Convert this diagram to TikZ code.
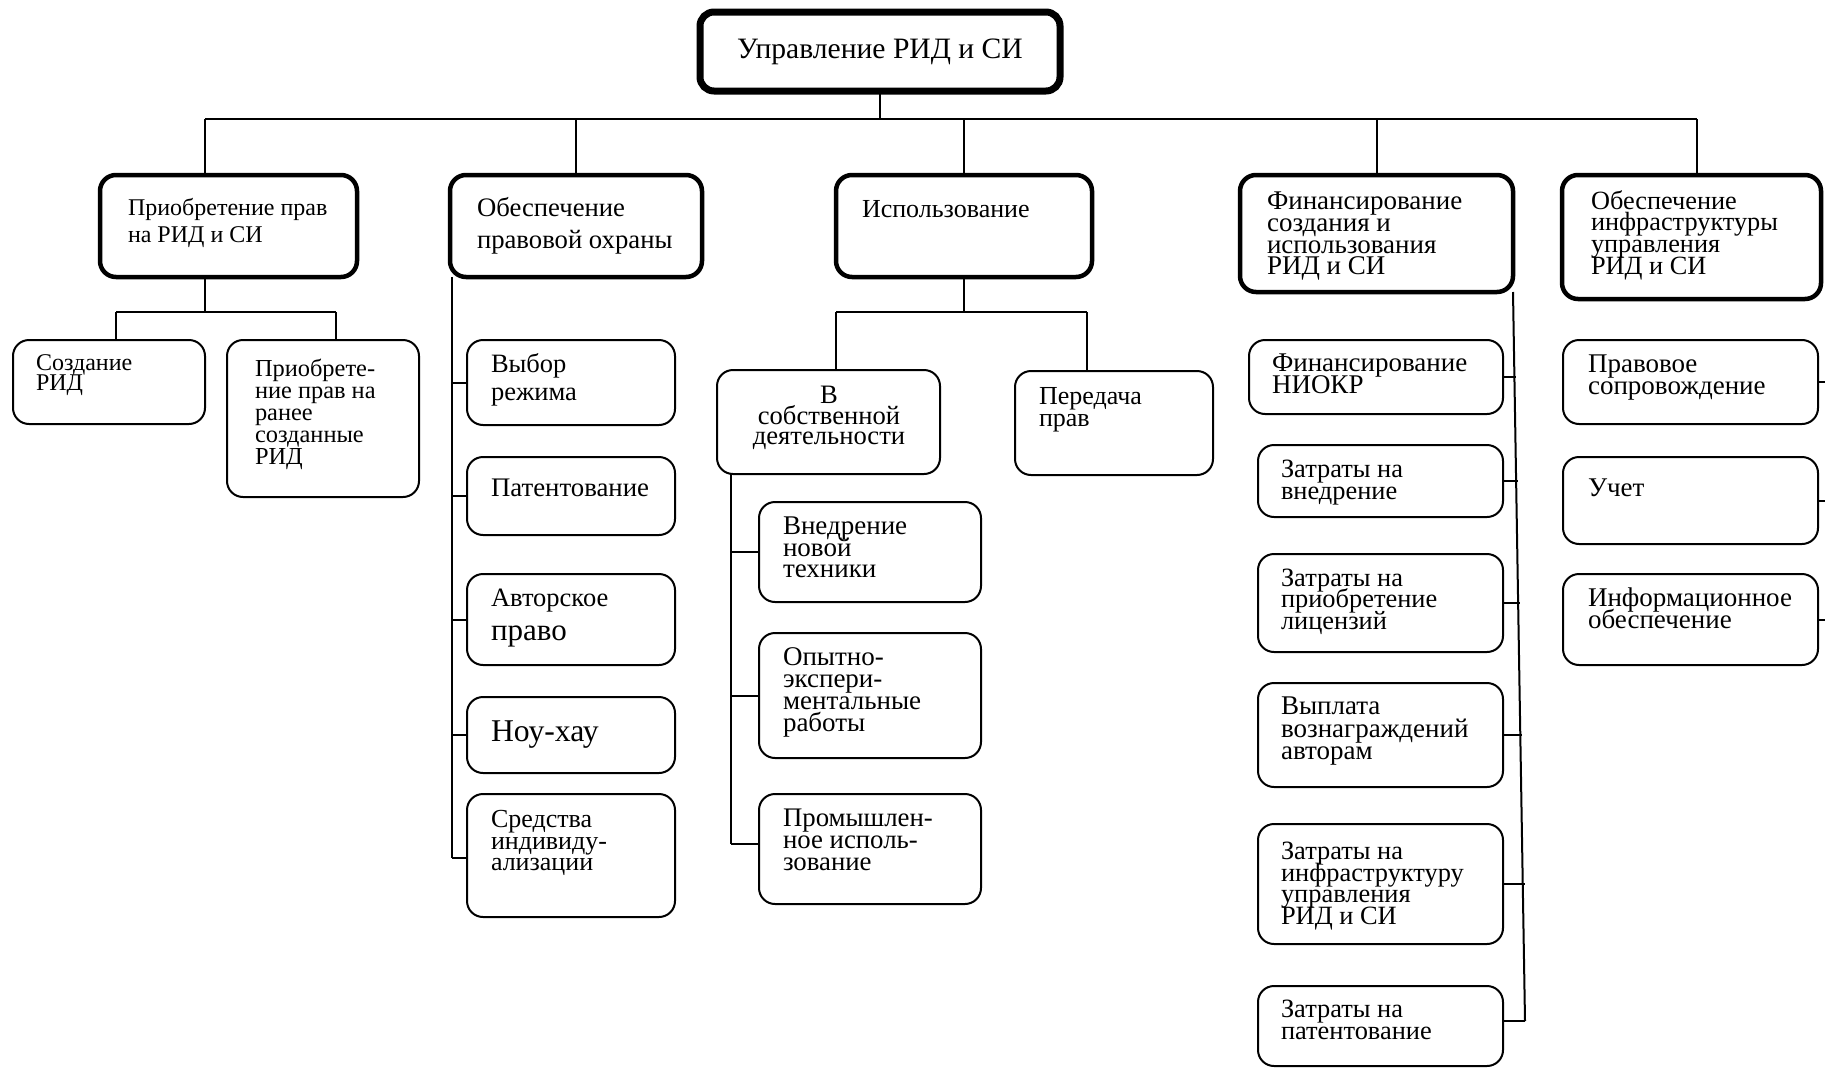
\documentclass[tikz,border=0pt]{standalone}
\usepackage{fontspec}
\setmainfont{Liberation Serif}
\lineskiplimit=-50pt
\newcommand\sr{\rule{0pt}{0.75em}}
\newcommand\fz[2]{\fontsize{#1}{#2}\selectfont\lineskiplimit=-50pt\relax}
\newcommand\bx[6]{\node[#2, anchor=north west, minimum width=#5-#3, minimum height=#6-#4] (#1) at (#3,#4) {};}
\tikzset{
  rootbox/.style={draw, line width=7pt, rounded corners=14pt, inner sep=0pt, outer sep=0pt},
  topbox/.style={draw, line width=4.5pt, rounded corners=16pt, inner sep=0pt, outer sep=0pt},
  subbox/.style={draw, line width=2pt, rounded corners=16pt, inner sep=0pt, outer sep=0pt},
  lbl/.style={anchor=north west, align=left, inner sep=0pt, outer sep=0pt, yshift=-3.5pt},
  clbl/.style={anchor=north, align=center, inner sep=0pt, outer sep=0pt, yshift=-3pt},
  conn/.style={line width=2pt},
}
\begin{document}
\begin{tikzpicture}[x=1pt,y=-1pt]
\useasboundingbox (0,0) rectangle (1825,1068);
\fill[white] (0,0) rectangle (1825,1068);
% root
\node[rootbox, anchor=north west, minimum width=360, minimum height=79, font=\fz{29.6}{32}] (root) at (700,12) {Управление РИД и СИ};
% level 1
\bx{b1}{topbox}{100}{175}{357}{277}
\bx{b2}{topbox}{450}{175}{702}{277}
\bx{b3}{topbox}{836}{175}{1092}{277}
\bx{b4}{topbox}{1240}{175}{1513}{292}
\bx{b5}{topbox}{1562}{175}{1821}{299}
\node[lbl, font=\fz{24}{27}] (t1) at (128,193.5) {\sr Приобретение прав\\на РИД и СИ};
\node[lbl, font=\fz{26.7}{32}] (t2) at (477,193) {\sr Обеспечение\\правовой охраны};
\node[lbl, font=\fz{26}{28}] (t3) at (862,194.5) {\sr Использование};
\node[lbl, font=\fz{27}{21.7}] (t4) at (1267,186) {\sr Финансирование\\создания и\\использования\\РИД и СИ};
\node[lbl, font=\fz{26.3}{21.7}] (t5) at (1591,186) {\sr Обеспечение\\инфраструктуры\\управления\\РИД и СИ};
% level 2 under b1
\bx{c11}{subbox}{13}{340}{205}{424}
\bx{c12}{subbox}{227}{340}{419}{497}
\node[lbl, font=\fz{24}{20}] (t11) at (36,348.5) {\sr Создание\\РИД};
\node[lbl, font=\fz{24.4}{21.8}] (t12) at (255,355) {\sr Приобрете-\\ние прав на\\ранее\\созданные\\РИД};
% under b2
\bx{c21}{subbox}{467}{340}{675}{425}
\bx{c22}{subbox}{467}{457}{675}{535}
\bx{c23}{subbox}{467}{574}{675}{665}
\bx{c24}{subbox}{467}{697}{675}{773}
\bx{c25}{subbox}{467}{794}{675}{917}
\node[lbl, font=\fz{26.5}{28}] (t21) at (491,349) {\sr Выбор\\режима};
\node[lbl, font=\fz{26.8}{28}] (t22) at (491,473) {\sr Патентование};
\node[lbl, font=\fz{26.5}{28}] (t23a) at (491,583) {\sr Авторское};
\node[lbl, font=\fz{31}{33}] (t23b) at (491,614) {\sr право};
\node[lbl, font=\fz{31.7}{33}] (t24) at (491,714.5) {\sr Ноу-хау};
\node[lbl, font=\fz{26}{21.5}] (t25) at (491,804.5) {\sr Средства\\индивиду-\\ализации};
% under b3
\bx{c31}{subbox}{717}{370}{940}{474}
\bx{c32}{subbox}{1015}{371}{1213}{475}
\node[clbl, font=\fz{26.6}{20.5}] (t31) at (829,381) {\sr В\\собственной\\деятельности};
\node[lbl, font=\fz{26}{22}] (t32) at (1039,381.5) {\sr Передача\\прав};
\bx{c311}{subbox}{759}{502}{981}{602}
\bx{c312}{subbox}{759}{633}{981}{758}
\bx{c313}{subbox}{759}{794}{981}{904}
\node[lbl, font=\fz{27}{21.5}] (t311) at (783,511) {\sr Внедрение\\новой\\техники};
\node[lbl, font=\fz{27}{22}] (t312) at (783,642) {\sr Опытно-\\экспери-\\ментальные\\работы};
\node[lbl, font=\fz{26.8}{22}] (t313) at (783,803) {\sr Промышлен-\\ное исполь-\\зование};
% under b4
\bx{c41}{subbox}{1249}{340}{1503}{414}
\bx{c42}{subbox}{1258}{445}{1503}{517}
\bx{c43}{subbox}{1258}{554}{1503}{652}
\bx{c44}{subbox}{1258}{683}{1503}{787}
\bx{c45}{subbox}{1258}{824}{1503}{944}
\bx{c46}{subbox}{1258}{986}{1503}{1066}
\node[lbl, font=\fz{27}{22}] (t41) at (1272,348) {\sr Финансирование\\НИОКР};
\node[lbl, font=\fz{26.4}{22}] (t42) at (1281,454) {\sr Затраты на\\внедрение};
\node[lbl, font=\fz{26.4}{21.5}] (t43) at (1281,563) {\sr Затраты на\\приобретение\\лицензий};
\node[lbl, font=\fz{27}{22.5}] (t44) at (1281,691) {\sr Выплата\\вознаграждений\\авторам};
\node[lbl, font=\fz{26.4}{21.7}] (t45) at (1281,836) {\sr Затраты на\\инфраструктуру\\управления\\РИД и СИ};
\node[lbl, font=\fz{26.4}{22}] (t46) at (1281,994) {\sr Затраты на\\патентование};
% under b5
\bx{c51}{subbox}{1563}{340}{1818}{424}
\bx{c52}{subbox}{1563}{457}{1818}{544}
\bx{c53}{subbox}{1563}{574}{1818}{665}
\node[lbl, font=\fz{27}{21.5}] (t51) at (1588,349) {\sr Правовое\\сопровождение};
\node[lbl, font=\fz{27}{22}] (t52) at (1588,473) {\sr Учет};
\node[lbl, font=\fz{27}{22}] (t53) at (1588,583) {\sr Информационное\\обеспечение};
% connectors level 0-1
\coordinate (busL) at (205,119);
\coordinate (busR) at (1697,119);
\draw[conn] (root.south) -- (root.south |- busL);
\draw[conn] (busL) -- (busR);
\draw[conn] (busL) -- (busL |- b1.north);
\draw[conn] (b2.north |- busL) -- (b2.north);
\draw[conn] (b3.north |- busL) -- (b3.north);
\draw[conn] (b4.north |- busL) -- (b4.north);
\draw[conn] (busR) -- (busR |- b5.north);
% b1 children
\coordinate (j1) at (205,312);
\coordinate (j1L) at (116,312);
\coordinate (j1R) at (336,312);
\draw[conn] (j1 |- b1.south) -- (j1);
\draw[conn] (j1L) -- (j1R);
\draw[conn] (j1L) -- (j1L |- c11.north);
\draw[conn] (j1R) -- (j1R |- c12.north);
% b2 children
\coordinate (v2b) at (452,858);
\draw[conn] (v2b |- b2.south) -- (v2b);
\draw[conn] (c21.west -| v2b) -- (c21.west);
\draw[conn] (c22.west -| v2b) -- (c22.west);
\draw[conn] (c23.west -| v2b) -- (c23.west);
\draw[conn] (c24.west -| v2b) -- (c24.west);
\draw[conn] (v2b) -- (v2b -| c25.west);
% b3 children
\coordinate (j3L) at (836,312);
\coordinate (j3R) at (1087,312);
\draw[conn] (b3.south) -- (b3.south |- j3L);
\draw[conn] (j3L) -- (j3R);
\draw[conn] (j3L) -- (j3L |- c31.north);
\draw[conn] (j3R) -- (j3R |- c32.north);
\coordinate (v31b) at (731,844);
\draw[conn] (v31b |- c31.south) -- (v31b);
\draw[conn] (c311.west -| v31b) -- (c311.west);
\draw[conn] (c312.west -| v31b) -- (c312.west);
\draw[conn] (v31b) -- (v31b -| c313.west);
% b4 children
\coordinate (v4b) at (1525,1021);
\draw[conn] (b4.south east) -- (v4b);
\draw[conn] (c41.east) -- ++(13,0);
\draw[conn] (c42.east) -- ++(15,0);
\draw[conn] (c43.east) -- ++(17,0);
\draw[conn] (c44.east) -- ++(19,0);
\draw[conn] (c45.east) -- ++(22,0);
\draw[conn] (v4b -| c46.east) -- (v4b);
% b5 children
\coordinate (edge) at (1825,0);
\draw[conn] (c51.east) -- (c51.east -| edge);
\draw[conn] (c52.east) -- (c52.east -| edge);
\draw[conn] (c53.east) -- (c53.east -| edge);
\end{tikzpicture}
\end{document}
